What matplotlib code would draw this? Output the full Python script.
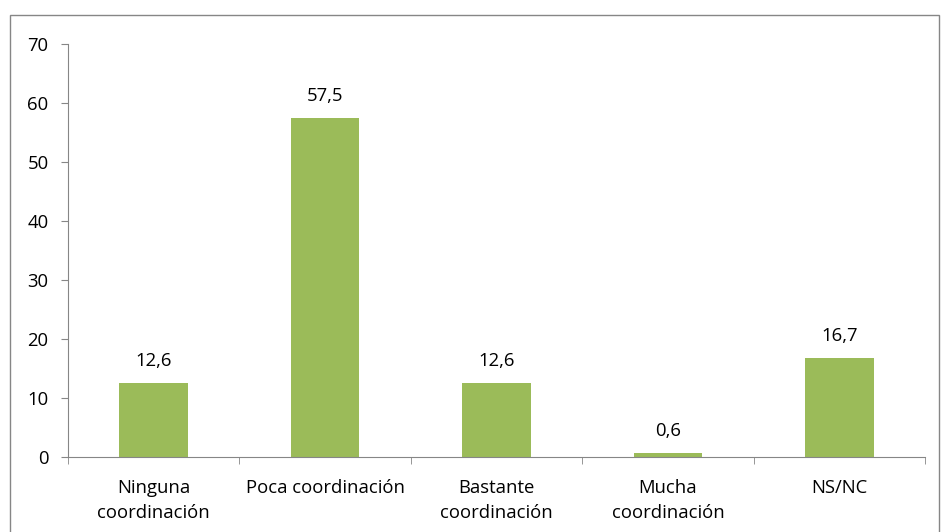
import matplotlib.pyplot as plt
from matplotlib.patches import Rectangle
import numpy as np

categories = ["Ninguna\ncoordinación", "Poca coordinación", "Bastante\ncoordinación",
              "Mucha\ncoordinación", "NS/NC"]
values = [12.6, 57.5, 12.6, 0.6, 16.7]
labels = ["12,6", "57,5", "12,6", "0,6", "16,7"]

plt.rcParams['font.family'] = ['Open Sans', 'DejaVu Sans']
grey = "#868686"
fs = 13.3

fig = plt.figure(figsize=(9.41, 5.32), dpi=100)
ax = fig.add_axes([68/941, 75/532, 857/941, 413/532])

x = np.arange(len(categories))
ax.bar(x, values, width=0.4, color="#9BBB59")
for xi, v, lab in zip(x, values, labels):
    ax.text(xi, v + 2.2, lab, ha="center", va="bottom", fontsize=fs)

ax.set_xlim(-0.5, len(categories) - 0.5)
ax.set_ylim(0, 70)
ax.set_yticks(range(0, 71, 10))
ax.set_xticks(x)
ax.set_xticklabels(categories, fontsize=fs, linespacing=1.45)
ax.set_xticks(np.arange(-0.5, len(categories)), minor=True)
ax.tick_params(axis="x", which="major", length=0, pad=16)
ax.tick_params(axis="x", which="minor", length=5, color=grey, direction="out")
ax.tick_params(axis="y", length=5, color=grey, direction="out", labelsize=fs, pad=9)

for s in ["top", "right"]:
    ax.spines[s].set_visible(False)
for s in ["left", "bottom"]:
    ax.spines[s].set_color(grey)

fig.patches.append(Rectangle((10/941, -0.05), 929/941, 1 - 15/532 + 0.05,
                             transform=fig.transFigure, fill=False,
                             edgecolor=grey, linewidth=1))

plt.savefig("out.png", dpi=100)
